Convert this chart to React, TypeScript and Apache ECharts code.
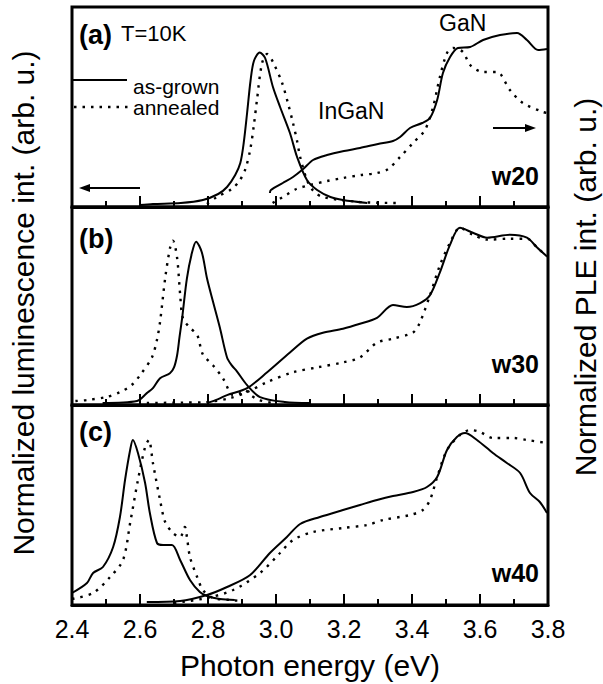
import { useEffect, useRef } from "react";
import * as echarts from "echarts";

/* Normalized PL (left) and PLE (right) spectra at T = 10 K, three samples. */

const ENERGY_MIN = 2.4;
const ENERGY_MAX = 3.8;
const ENERGY_STEP = 0.2;
const energyLabels = ["2.4", "2.6", "2.8", "3.0", "3.2", "3.4", "3.6", "3.8"];
const majorTickValues = [2.4, 2.6, 2.8, 3.0, 3.2, 3.4, 3.6, 3.8];
const minorTickValues = [2.5, 2.7, 2.9, 3.1, 3.3, 3.5, 3.7];

// w20, panel (a)
const w20_pl_asGrown = [[2.6, 0.01], [2.638, 0.015], [2.72, 0.02], [2.785, 0.035], [2.83, 0.065], [2.856, 0.1], [2.88, 0.16], [2.895, 0.22], [2.905, 0.32], [2.915, 0.47], [2.925, 0.63], [2.935, 0.73], [2.952, 0.772], [2.968, 0.745], [2.991, 0.6], [3.012, 0.5], [3.041, 0.37], [3.062, 0.25], [3.091, 0.135], [3.121, 0.085], [3.16, 0.05], [3.197, 0.035], [3.268, 0.02]];
const w20_pl_annealed = [[2.797, 0.015], [2.826, 0.05], [2.87, 0.09], [2.894, 0.135], [2.91, 0.19], [2.924, 0.285], [2.935, 0.41], [2.944, 0.535], [2.959, 0.72], [2.974, 0.765], [2.991, 0.725], [3.018, 0.62], [3.035, 0.52], [3.05, 0.42], [3.062, 0.33], [3.071, 0.25], [3.091, 0.135], [3.11, 0.08], [3.138, 0.05], [3.247, 0.025], [3.356, 0.02]];
const w20_ple_asGrown = [[2.982, 0.07], [2.985, 0.085], [3.02, 0.12], [3.05, 0.15], [3.08, 0.19], [3.109, 0.235], [3.15, 0.26], [3.2, 0.28], [3.247, 0.295], [3.3, 0.315], [3.344, 0.33], [3.365, 0.35], [3.394, 0.395], [3.43, 0.42], [3.453, 0.445], [3.474, 0.535], [3.491, 0.67], [3.512, 0.75], [3.535, 0.795], [3.571, 0.8], [3.609, 0.835], [3.659, 0.86], [3.709, 0.87], [3.738, 0.835], [3.771, 0.785], [3.797, 0.79]];
const w20_ple_annealed = [[2.99, 0.02], [3.03, 0.06], [3.06, 0.09], [3.1, 0.11], [3.15, 0.13], [3.197, 0.145], [3.25, 0.16], [3.297, 0.17], [3.33, 0.19], [3.365, 0.25], [3.403, 0.32], [3.438, 0.385], [3.462, 0.5], [3.482, 0.65], [3.503, 0.77], [3.521, 0.795], [3.55, 0.775], [3.571, 0.71], [3.609, 0.675], [3.65, 0.675], [3.688, 0.585], [3.726, 0.52], [3.785, 0.475], [3.797, 0.47]];

// w30, panel (b)
const w30_pl_asGrown = [[2.49, 0.01], [2.591, 0.02], [2.62, 0.06], [2.638, 0.085], [2.659, 0.135], [2.688, 0.16], [2.7, 0.19], [2.709, 0.25], [2.716, 0.34], [2.724, 0.44], [2.738, 0.64], [2.753, 0.77], [2.765, 0.825], [2.782, 0.77], [2.797, 0.64], [2.815, 0.52], [2.835, 0.39], [2.856, 0.24], [2.87, 0.2], [2.885, 0.17], [2.915, 0.1], [2.953, 0.04], [3.026, 0.015], [3.1, 0.01]];
const w30_pl_annealed = [[2.41, 0.02], [2.444, 0.025], [2.5, 0.04], [2.541, 0.065], [2.575, 0.1], [2.6, 0.15], [2.635, 0.24], [2.65, 0.33], [2.659, 0.42], [2.674, 0.64], [2.688, 0.79], [2.697, 0.83], [2.709, 0.745], [2.718, 0.56], [2.726, 0.44], [2.747, 0.39], [2.768, 0.355], [2.785, 0.255], [2.815, 0.2], [2.844, 0.135], [2.874, 0.05], [2.895, 0.06], [2.909, 0.075], [2.925, 0.05], [2.95, 0.025], [2.991, 0.01]];
const w30_ple_asGrown = [[2.797, 0.01], [2.83, 0.03], [2.856, 0.05], [2.915, 0.085], [2.974, 0.165], [3.041, 0.265], [3.091, 0.335], [3.138, 0.365], [3.197, 0.385], [3.247, 0.41], [3.297, 0.44], [3.344, 0.505], [3.385, 0.495], [3.424, 0.515], [3.453, 0.555], [3.482, 0.67], [3.512, 0.81], [3.541, 0.895], [3.579, 0.87], [3.621, 0.845], [3.688, 0.86], [3.738, 0.845], [3.768, 0.795], [3.797, 0.75]];
const w30_ple_annealed = [[2.62, 0.01], [2.72, 0.012], [2.797, 0.015], [2.865, 0.035], [2.915, 0.065], [2.974, 0.116], [3.05, 0.165], [3.121, 0.19], [3.197, 0.215], [3.247, 0.24], [3.297, 0.315], [3.344, 0.335], [3.403, 0.366], [3.424, 0.42], [3.453, 0.555], [3.482, 0.705], [3.512, 0.82], [3.541, 0.895], [3.579, 0.86], [3.621, 0.835], [3.688, 0.84], [3.738, 0.84], [3.768, 0.795], [3.797, 0.75]];

// w40, panel (c)
const w40_pl_asGrown = [[2.4, 0.06], [2.444, 0.11], [2.462, 0.16], [2.491, 0.19], [2.521, 0.29], [2.541, 0.44], [2.556, 0.625], [2.571, 0.775], [2.579, 0.825], [2.594, 0.76], [2.615, 0.61], [2.629, 0.46], [2.65, 0.31], [2.668, 0.3], [2.694, 0.3], [2.718, 0.225], [2.747, 0.125], [2.776, 0.065], [2.797, 0.045], [2.835, 0.03], [2.879, 0.025]];
const w40_pl_annealed = [[2.4, 0.03], [2.462, 0.06], [2.512, 0.14], [2.55, 0.225], [2.571, 0.41], [2.594, 0.625], [2.615, 0.79], [2.626, 0.825], [2.638, 0.71], [2.659, 0.525], [2.674, 0.415], [2.697, 0.36], [2.718, 0.34], [2.732, 0.39], [2.738, 0.34], [2.747, 0.24], [2.768, 0.14], [2.785, 0.075], [2.815, 0.035], [2.865, 0.025], [2.9, 0.02]];
const w40_ple_asGrown = [[2.62, 0.015], [2.718, 0.02], [2.797, 0.05], [2.856, 0.09], [2.924, 0.15], [2.982, 0.26], [3.032, 0.34], [3.071, 0.405], [3.129, 0.44], [3.197, 0.475], [3.247, 0.5], [3.297, 0.525], [3.344, 0.545], [3.403, 0.565], [3.444, 0.59], [3.474, 0.64], [3.503, 0.775], [3.532, 0.84], [3.556, 0.86], [3.591, 0.825], [3.638, 0.76], [3.679, 0.71], [3.718, 0.66], [3.747, 0.56], [3.776, 0.515], [3.797, 0.46]];
const w40_ple_annealed = [[2.7, 0.01], [2.797, 0.035], [2.874, 0.075], [2.953, 0.16], [3.012, 0.26], [3.05, 0.325], [3.109, 0.365], [3.197, 0.385], [3.268, 0.4], [3.315, 0.425], [3.394, 0.45], [3.432, 0.475], [3.453, 0.525], [3.474, 0.64], [3.503, 0.775], [3.541, 0.85], [3.571, 0.875], [3.6, 0.865], [3.638, 0.835], [3.697, 0.835], [3.738, 0.825], [3.797, 0.81]];

const panels = [
  { letter: "(a)", sample: "w20", curves: [w20_pl_asGrown, w20_pl_annealed, w20_ple_asGrown, w20_ple_annealed] },
  { letter: "(b)", sample: "w30", curves: [w30_pl_asGrown, w30_pl_annealed, w30_ple_asGrown, w30_ple_annealed] },
  { letter: "(c)", sample: "w40", curves: [w40_pl_asGrown, w40_pl_annealed, w40_ple_asGrown, w40_ple_annealed] },
];

const SANS = "'Liberation Sans', Arial, Helvetica, sans-serif";
const DOT_PATTERN: number[] = [2.5, 6];

export default function App() {
  const box = useRef<HTMLDivElement>(null);

  useEffect(() => {
    const el = box.current;
    if (!el) return;
    const chart = echarts.init(el, undefined, { renderer: "svg" });

    const gridDefs = [
      { top: 7, height: 200 },
      { top: 207, height: 198 },
      { top: 405, height: 200 },
    ];
    const grid = gridDefs.map((g) => ({
      left: 72,
      right: 55,
      top: g.top,
      height: g.height,
      show: true,
      borderColor: "#000",
      borderWidth: 3,
    }));

    const xAxis = gridDefs.map((_, i) => ({
      type: "value",
      gridIndex: i,
      min: ENERGY_MIN,
      max: ENERGY_MAX,
      interval: ENERGY_STEP,
      axisLine: { show: true, lineStyle: { color: "#000", width: 3 } },
      axisTick: { show: true, inside: true, length: 11, lineStyle: { color: "#000", width: 2 } },
      minorTick: { show: true, splitNumber: 2, length: 6, lineStyle: { color: "#000", width: 2 } },
      splitLine: { show: false },
      axisLabel: {
        show: i === 2,
        color: "#000",
        fontSize: 25,
        fontFamily: SANS,
        margin: 11,
        formatter: (v: number) => energyLabels[Math.round((v - ENERGY_MIN) / ENERGY_STEP)] || "",
      },
      name: i === 2 ? "Photon energy (eV)" : "",
      nameLocation: "middle",
      nameGap: 45,
      nameTextStyle: { color: "#000", fontSize: 30, fontFamily: SANS },
    }));

    const yAxis = gridDefs.map((_, i) => ({ type: "value", gridIndex: i, min: 0, max: 1, show: false }));

    const series: any[] = [];
    panels.forEach((panel, p) => {
      panel.curves.forEach((data, k) => {
        const dotted = k % 2 === 1;
        series.push({
          type: "line",
          xAxisIndex: p,
          yAxisIndex: p,
          data,
          symbol: "none",
          smooth: 0.3,
          lineStyle: { color: "#000", width: dotted ? 2.4 : 2, type: dotted ? DOT_PATTERN : "solid" },
        });
      });
      series.push({
        type: "custom",
        xAxisIndex: p,
        yAxisIndex: p,
        data: majorTickValues.map((v) => [v, 1]).concat(minorTickValues.map((v) => [v, 0])),
        renderItem: (_params: any, api: any) => {
          const pt = api.coord([api.value(0), 0]);
          const len = api.value(1) === 1 ? 11 : 6;
          return {
            type: "line",
            shape: { x1: pt[0], y1: pt[1], x2: pt[0], y2: pt[1] - len },
            style: { stroke: "#000", lineWidth: 2 },
          };
        },
      });
    });

    const label = (text: string, x: number, y: number, size: number, o: any = {}) => ({
      type: "text",
      x,
      y,
      rotation: o.rotation || 0,
      silent: true,
      style: {
        text,
        fill: "#000",
        fontSize: size,
        fontFamily: SANS,
        fontWeight: o.bold ? "bold" : "normal",
        align: o.align || "left",
        verticalAlign: "middle",
      },
    });

    const letterY = [35, 239, 432];
    const sampleY = [176, 364, 573];
    const graphic: any[] = [];
    panels.forEach((panel, i) => {
      graphic.push(label(panel.letter, 79, letterY[i], 27, { bold: true }));
      graphic.push(label(panel.sample, 539, sampleY[i], 25, { bold: true, align: "right" }));
    });
    graphic.push(label("T=10K", 121, 33, 22));
    graphic.push(label("as-grown", 133, 86, 21));
    graphic.push(label("annealed", 133, 107, 21));
    graphic.push(label("InGaN", 318, 111, 23));
    graphic.push(label("GaN", 439, 23, 23));
    graphic.push(label("Normalized luminescence int. (arb. u.)", 23, 303, 30, { align: "center", rotation: Math.PI / 2 }));
    graphic.push(label("Normalized PLE int. (arb. u.)", 585, 287, 30, { align: "center", rotation: Math.PI / 2 }));
    graphic.push({ type: "line", silent: true, shape: { x1: 73, y1: 80, x2: 127, y2: 80 }, style: { stroke: "#000", lineWidth: 2 } });
    graphic.push({ type: "line", silent: true, shape: { x1: 74, y1: 107, x2: 128, y2: 107 }, style: { stroke: "#000", lineWidth: 2.4, lineDash: DOT_PATTERN } });
    graphic.push({ type: "line", silent: true, shape: { x1: 88, y1: 188, x2: 140, y2: 188 }, style: { stroke: "#000", lineWidth: 2 } });
    graphic.push({ type: "polygon", silent: true, shape: { points: [[79, 188], [90, 184], [90, 192]] }, style: { fill: "#000" } });
    graphic.push({ type: "line", silent: true, shape: { x1: 493, y1: 128, x2: 527, y2: 128 }, style: { stroke: "#000", lineWidth: 2 } });
    graphic.push({ type: "polygon", silent: true, shape: { points: [[536, 128], [525, 124], [525, 132]] }, style: { fill: "#000" } });

    chart.setOption({ animation: false, grid, xAxis, yAxis, series, graphic });

    return () => chart.dispose();
  }, []);

  return <div ref={box} style={{ position: "fixed", left: 0, top: 0, width: 603, height: 684, background: "#fff" }} />;
}
